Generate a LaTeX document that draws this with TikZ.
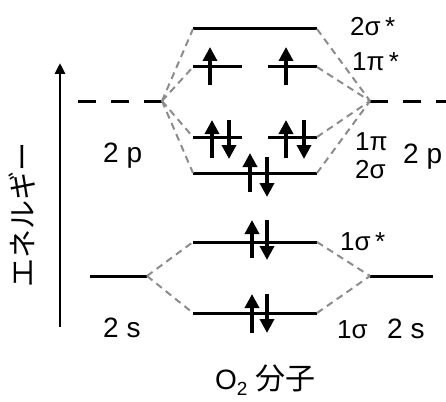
\documentclass[tikz,border=0pt]{standalone}
\usepackage{fontspec}
\setmainfont{Liberation Sans}
\newfontfamily\jpfont{Noto Sans CJK JP}
\usetikzlibrary{arrows.meta,calc,positioning}

\begin{document}
\begin{tikzpicture}[x=1pt,y=-1pt]

\tikzset{level/.style={line width=3pt},
pdash/.style={line width=3pt,dash pattern=on 18pt off 15pt},
link/.style={color=black!45,line width=2pt,dash pattern=on 7pt off 5pt},
spin/.style={line width=4pt,-{Triangle[width=14pt,length=14pt]}},
lab/.style={anchor=base west,inner sep=0pt,font=\fontsize{26}{28}\selectfont},
atom/.style={lab,font=\fontsize{28}{30}\selectfont}}

\useasboundingbox (0,0) rectangle (446,401);

% Axis
\node[rotate=90,inner sep=0pt,font=\jpfont\fontsize{29}{30}\selectfont] (energy) at (22,215) {エネルギー};
\coordinate (axB) at (60,327);
\coordinate (axT) at (60,63);
\draw[line width=2.8pt,-{Triangle[width=10pt,length=11pt]}] (axB) -- (axT);

% atomic levels
\coordinate (p2L-w) at (78,101);  \coordinate (p2L-e) at (162,101);
\coordinate (p2R-w) at (370,101); \coordinate (p2R-e) at (446,101);
\coordinate (s2L-w) at (90,276);  \coordinate (s2L-e) at (147,276);
\coordinate (s2R-w) at (370,276); \coordinate (s2R-e) at (433,276);
\draw[pdash] (p2L-w) -- (p2L-e);
\draw[pdash] (p2R-w) -- (p2R-e);
\draw[level] (s2L-w) -- (s2L-e);
\draw[level] (s2R-w) -- (s2R-e);

% molecular levels
\coordinate (sigTs-w) at (193,29);  \coordinate (sigTs-e) at (317,29);
\coordinate (piSL-w) at (193,67);   \coordinate (piSL-e) at (242,67);
\coordinate (piSR-w) at (268,67);   \coordinate (piSR-e) at (317,67);
\coordinate (piL-w) at (193,137);   \coordinate (piL-e) at (242,137);
\coordinate (piR-w) at (268,137);   \coordinate (piR-e) at (317,137);
\coordinate (sigT-w) at (193,173);  \coordinate (sigT-e) at (317,173);
\coordinate (sigOs-w) at (193,242); \coordinate (sigOs-e) at (317,242);
\coordinate (sigO-w) at (193,313);  \coordinate (sigO-e) at (317,313);
\foreach \m in {sigTs,piSL,piSR,piL,piR,sigT,sigOs,sigO} \draw[level] (\m-w) -- (\m-e);

% Correlation lines
\foreach \m in {sigTs,piSL,piL,sigT} \draw[link] (p2L-e) -- (\m-w);
\foreach \m in {sigTs,piSR,piR,sigT} \draw[link] (\m-e) -- (p2R-w);
\foreach \m in {sigOs,sigO} {\draw[link] (s2L-e) -- (\m-w); \draw[link] (\m-e) -- (s2R-w);}

% electrons
\draw[spin] (210,85) -- (210,47);   \draw[spin] (286,85) -- (286,47);
\draw[spin] (212,158) -- (212,120); \draw[spin] (229,120) -- (229,159);
\draw[spin] (286,158) -- (286,120); \draw[spin] (304,120) -- (304,159);
\draw[spin] (250,192) -- (250,153); \draw[spin] (267,157) -- (267,197);
\draw[spin] (252,258) -- (252,220); \draw[spin] (267,220) -- (267,260);
\draw[spin] (252,333) -- (252,294); \draw[spin] (267,294) -- (267,333);

% labels
\node[atom] (lp2L) at (103,162) {2 p};
\node[atom] (ls2L) at (103,337) {2 s};
\node[lab] (lsigTs) at (350,36) {2σ\,*};
\node[lab] (lpiS) at (352,71) {1π\,*};
\node[lab] (lpi) at (355,150) {1π};
\node[lab] (lsigT) at (355,178) {2σ};
\node[atom] (lp2R) at (403,163) {2 p};
\node[lab] (lsigOs) at (340,250) {1σ\,*};
\node[lab] (lsigO) at (337,338) {1σ};
\node[atom] (ls2R) at (387,338) {2 s};
\node[atom] (mol) at (215,389) {O{\fontsize{19}{20}\selectfont\raisebox{-6pt}{2}}\hspace{8pt}{\jpfont\fontsize{30}{32}\selectfont 分子}};

\end{tikzpicture}
\end{document}
